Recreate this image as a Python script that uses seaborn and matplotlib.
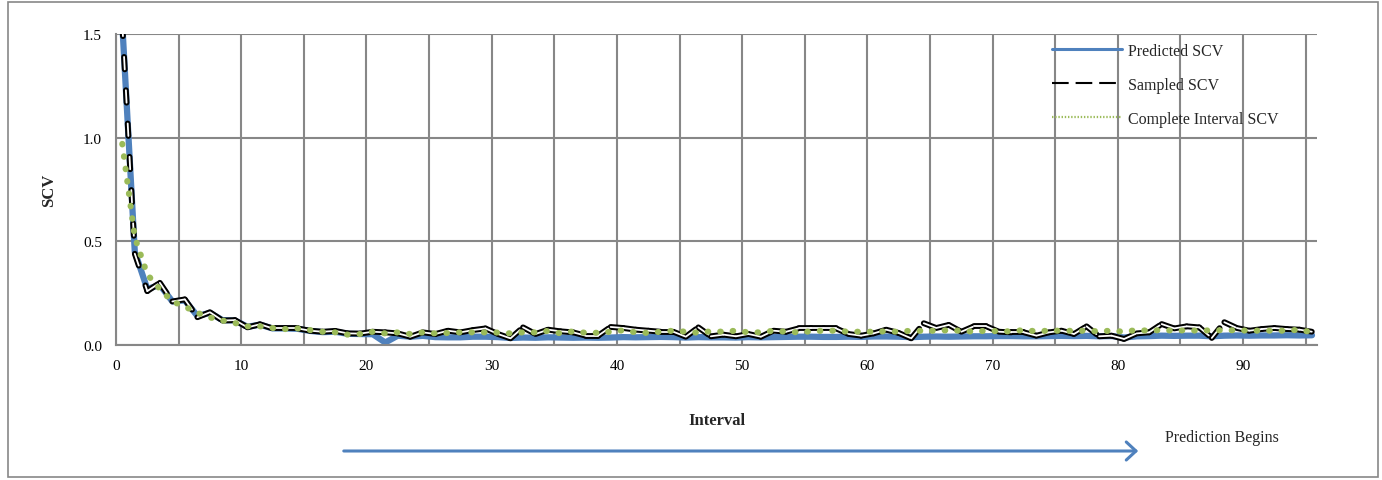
import numpy as np
import pandas as pd
import matplotlib.pyplot as plt
import seaborn as sns
from matplotlib.lines import Line2D
from matplotlib.patches import FancyArrowPatch, Rectangle
from matplotlib.ticker import MultipleLocator, FuncFormatter

# values, one per interval (0..95)
intervals = list(range(96))

predicted = [1.55, 0.45, 0.27, 0.29, 0.21, 0.215, 0.14, 0.155, 0.12, 0.118,
             0.088, 0.098, 0.08, 0.08, 0.078, 0.068, 0.062, 0.064, 0.054, 0.053,
             0.052, 0.012, 0.045, 0.04, 0.044, 0.038, 0.037, 0.037, 0.04, 0.04,
             0.038, 0.034, 0.036, 0.035, 0.037, 0.036, 0.035, 0.036, 0.035, 0.036,
             0.038, 0.037, 0.038, 0.039, 0.038, 0.036, 0.038, 0.037, 0.037, 0.036,
             0.038, 0.037, 0.038, 0.039, 0.04, 0.04, 0.039, 0.039, 0.04, 0.039,
             0.041, 0.041, 0.04, 0.038, 0.04, 0.041, 0.04, 0.041, 0.042, 0.042,
             0.043, 0.043, 0.042, 0.042, 0.043, 0.044, 0.043, 0.044, 0.042, 0.043,
             0.036, 0.042, 0.043, 0.045, 0.044, 0.045, 0.045, 0.042, 0.045, 0.046,
             0.045, 0.046, 0.046, 0.047, 0.046, 0.047]

sampled = [1.55, 0.44, 0.26, 0.30, 0.21, 0.22, 0.134, 0.158, 0.118, 0.12,
           0.085, 0.10, 0.08, 0.08, 0.08, 0.069, 0.064, 0.068, 0.056, 0.055,
           0.064, 0.061, 0.056, 0.04, 0.061, 0.053, 0.069, 0.061, 0.072, 0.08,
           0.053, 0.032, 0.085, 0.053, 0.074, 0.066, 0.061, 0.045, 0.045, 0.087,
           0.082, 0.074, 0.069, 0.064, 0.064, 0.04, 0.085, 0.042, 0.05, 0.042,
           0.053, 0.04, 0.069, 0.064, 0.08, 0.08, 0.08, 0.08, 0.053, 0.045,
           0.056, 0.074, 0.058, 0.032, 0.105, 0.082, 0.097, 0.064, 0.09, 0.09,
           0.064, 0.061, 0.061, 0.045, 0.061, 0.069, 0.053, 0.09, 0.042, 0.045,
           0.029, 0.056, 0.061, 0.101, 0.08, 0.09, 0.085, 0.034, 0.11, 0.082,
           0.069, 0.077, 0.082, 0.077, 0.074, 0.064]

complete = [0.97, 0.52, 0.34, 0.27, 0.21, 0.185, 0.155, 0.133, 0.118, 0.106,
            0.09, 0.09, 0.082, 0.077, 0.08, 0.072, 0.064, 0.061, 0.05, 0.053,
            0.064, 0.056, 0.061, 0.053, 0.061, 0.056, 0.058, 0.061, 0.061, 0.061,
            0.06, 0.056, 0.061, 0.061, 0.068, 0.056, 0.066, 0.059, 0.059, 0.064,
            0.071, 0.061, 0.058, 0.064, 0.069, 0.064, 0.059, 0.066, 0.064, 0.069,
            0.061, 0.061, 0.069, 0.064, 0.061, 0.066, 0.069, 0.069, 0.064, 0.064,
            0.064, 0.066, 0.064, 0.069, 0.068, 0.069, 0.071, 0.069, 0.064, 0.069,
            0.066, 0.066, 0.072, 0.066, 0.069, 0.069, 0.068, 0.069, 0.066, 0.069,
            0.064, 0.072, 0.069, 0.072, 0.069, 0.071, 0.069, 0.071, 0.071, 0.071,
            0.069, 0.069, 0.069, 0.069, 0.074, 0.061]

labels = ["Predicted SCV", "Sampled SCV", "Complete Interval SCV"]
blue = "#4F81BD"
green = "#9BBB59"
grid_c = "#878787"

sns.set_style("white")
plt.rcParams["font.family"] = ["Liberation Serif", "DejaVu Serif"]
plt.rcParams["lines.scale_dashes"] = False

df = pd.DataFrame({"interval": intervals, "predicted": predicted,
                   "sampled": sampled, "complete": complete})
# excel puts each category in the middle of its slot
df["pos"] = df["interval"] + 0.5

fig = plt.figure(figsize=(13.82, 4.81), dpi=100)
ax = fig.add_axes([116 / 1382, 1 - 346 / 481, 1201 / 1382, 311 / 481])

sns.lineplot(data=df, x="pos", y="predicted", ax=ax, color=blue, lw=4.5,
             solid_joinstyle="round")

# sampled line: black double line, dash pattern restarts at every point
xs = df["pos"].values
ys = df["sampled"].values
for i in range(len(xs) - 1):
    ax.plot(xs[i:i + 2], ys[i:i + 2], color="black", lw=4.2,
            linestyle=(0, (9, 15)), dash_capstyle="round")
for i in range(len(xs) - 1):
    ax.plot(xs[i:i + 2], ys[i:i + 2], color="white", lw=1.3,
            linestyle=(0, (9, 15)), dash_capstyle="round")

sns.lineplot(data=df, x="pos", y="complete", ax=ax, color=green, lw=4.4,
             linestyle=(0, (0.4, 8.6)), dash_capstyle="round")

ax.set_xlim(0, 95.9)
ax.set_ylim(0, 1.5)
ax.xaxis.set_major_locator(MultipleLocator(5))
ax.xaxis.set_major_formatter(FuncFormatter(lambda v, p: "%d" % v if v % 10 == 0 else ""))
ax.set_yticks([0, 0.5, 1.0, 1.5])
ax.yaxis.set_major_formatter(FuncFormatter(lambda v, p: "%.1f" % v))
ax.grid(True, color=grid_c, lw=1.5)
ax.set_axisbelow(True)
for s in ["top", "right"]:
    ax.spines[s].set_visible(False)
for s in ["left", "bottom"]:
    ax.spines[s].set_color(grid_c)
    ax.spines[s].set_linewidth(1.5)
ax.tick_params(axis="both", direction="out", length=4, width=1.2, color=grid_c,
               labelsize=11, labelcolor="black", pad=6)

ax.set_xlabel("Interval", fontsize=12, fontweight="bold", labelpad=29)
ax.set_ylabel("SCV", fontsize=12, fontweight="bold", labelpad=19)

handles = [Line2D([], [], color=blue, lw=2.2),
           Line2D([], [], color="black", lw=1.5, linestyle=(0, (12, 5))),
           Line2D([], [], color=green, lw=1.6, linestyle=(0, (1, 1.3)))]
ax.legend(handles, labels, loc="upper left", bbox_to_anchor=(0.767, 1.017),
          frameon=False, fontsize=11.5, handlelength=4.4, handletextpad=0.4,
          labelspacing=1.12)

# arrow under the axis
arrow = FancyArrowPatch((341 / 1382, 1 - 452 / 481), (1141 / 1382, 1 - 452 / 481),
                        transform=fig.transFigure,
                        arrowstyle="->,head_length=7,head_width=6.5",
                        color=blue, lw=2.2, mutation_scale=1)
fig.patches.append(arrow)
fig.text(1165 / 1382, 1 - 438 / 481, "Prediction Begins", fontsize=11.5,
         va="center", ha="left")

# outer border
fig.patches.append(Rectangle((8 / 1382, 3 / 481), 1370 / 1382, 475 / 481,
                             transform=fig.transFigure, fill=False,
                             edgecolor=grid_c, lw=1.2))

fig.savefig("out.png", dpi=100)
